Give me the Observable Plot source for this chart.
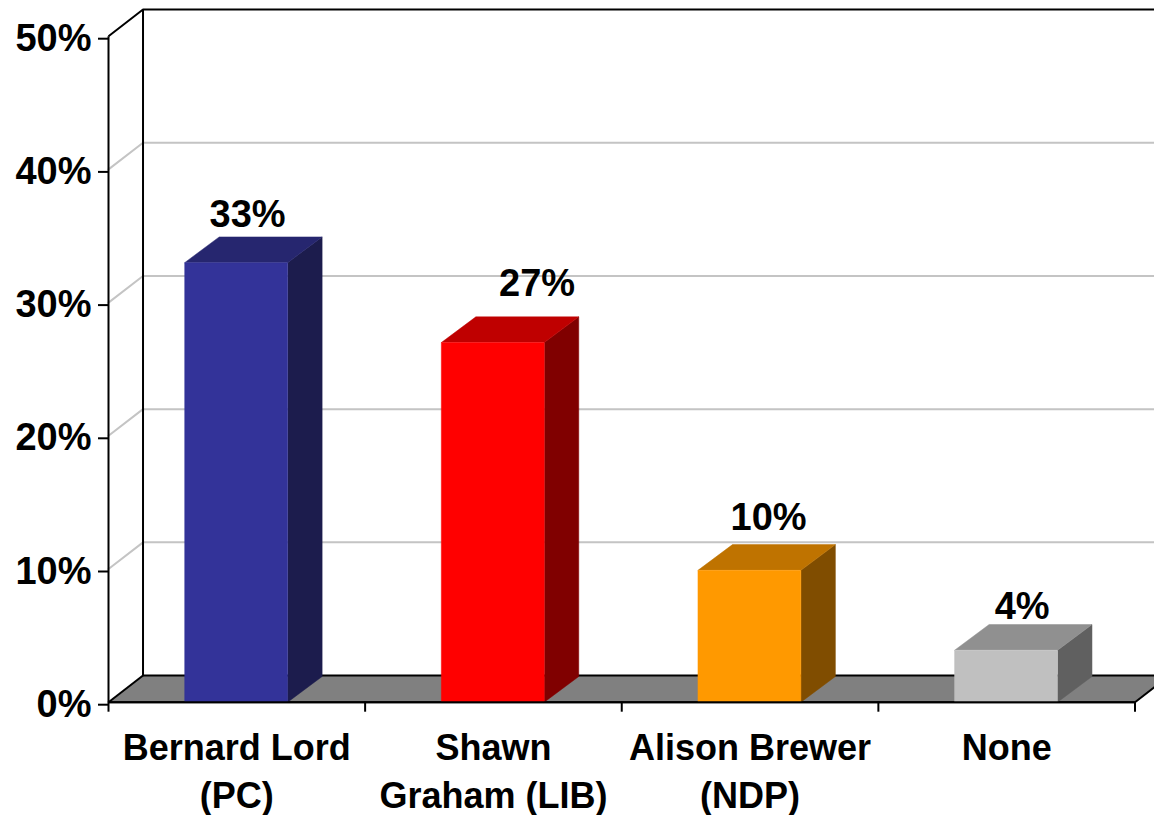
<!DOCTYPE html>
<html>
<head>
<meta charset="utf-8">
<script src="https://cdn.jsdelivr.net/npm/d3@7"></script>
<script src="https://cdn.jsdelivr.net/npm/@observablehq/plot@0.6"></script>
<style>
  html, body { margin: 0; padding: 0; background: #fff; }
  svg { display: block; }
</style>
</head>
<body>
<div id="chart"></div>
<script>
const categories = ["Bernard Lord\n(PC)", "Shawn\nGraham (LIB)", "Alison Brewer\n(NDP)", "None"];
const values = [33, 27, 9.9, 3.9];
const shownLabels = ["33%", "27%", "10%", "4%"];
const yTicks = [0, 10, 20, 30, 40, 50];
const gridTicks = [10, 20, 30, 40];

// Layout constants (not data)
const FRONT = ["#333399", "#ff0000", "#ff9900", "#c0c0c0"];
const TOP = ["#26266f", "#bf0000", "#bf7300", "#909090"];
const SIDE = ["#1c1c4d", "#800000", "#804d00", "#606060"];
const DX = 0.1345, DY = 2.0, BAR_DY = 1.93;
const BAR_L = 0.297, BAR_R = 0.698;
const FONT = "'Liberation Sans', Arial, sans-serif";
const labelShift = [[0.042, 36.6], [0.17, 31.4], [0.072, 13.85], [0.06, 7.15]];

const poly = (key, color, pts) => pts.map(([x, y]) => ({key, color, x, y}));
const faces = categories.flatMap((c, i) => {
  const l = i + BAR_L, r = i + BAR_R, v = values[i];
  return [
    ...poly(c + "side", SIDE[i], [[r, 0], [r + DX, BAR_DY], [r + DX, v + BAR_DY], [r, v]]),
    ...poly(c + "top", TOP[i], [[l, v], [l + DX, v + BAR_DY], [r + DX, v + BAR_DY], [r, v]]),
    ...poly(c + "front", FRONT[i], [[l, 0], [l, v], [r, v], [r, 0]])
  ];
});
const floor = poly("floor", "#808080", [[0, 0], [DX, DY], [4 + DX, DY], [4, 0]]);
const gridWall = gridTicks.flatMap(t => [
  {t, x: 0, y: t}, {t, x: DX, y: t + DY}, {t, x: 4 + DX, y: t + DY}
]);
const blackLines = [
  {k: "frontLeft", x: 0, y: 50}, {k: "frontLeft", x: 0, y: 0},
  {k: "topEdge", x: 0, y: 50}, {k: "topEdge", x: DX, y: 50 + DY}, {k: "topEdge", x: 4 + DX, y: 50 + DY},
  {k: "back", x: DX, y: 50 + DY}, {k: "back", x: DX, y: DY}, {k: "back", x: 4 + DX, y: DY},
  {k: "floorLeft", x: 0, y: 0}, {k: "floorLeft", x: DX, y: DY},
  {k: "floorRight", x: 4, y: 0}, {k: "floorRight", x: 4 + DX, y: DY},
  {k: "front", x: 0, y: 0}, {k: "front", x: 4, y: 0}
];

const chart = Plot.plot({
  width: 1154,
  height: 815,
  marginLeft: 108,
  marginRight: 19.5,
  marginTop: 35.7,
  marginBottom: 113.3,
  style: {background: "#fff", fontFamily: FONT},
  x: {domain: [0, 4], axis: null},
  y: {domain: [0, 50], axis: null},
  marks: [
    Plot.line(floor, {x: "x", y: "y", z: "key", fill: "color", stroke: "none"}),
    Plot.line(gridWall, {x: "x", y: "y", z: "t", stroke: "#c4c4c4", strokeWidth: 2}),
    Plot.line(blackLines, {x: "x", y: "y", z: "k", stroke: "#000", strokeWidth: 2, strokeLinecap: "butt"}),
    Plot.line(faces, {x: "x", y: "y", z: "key", fill: "color", stroke: "color", strokeWidth: 0.5}),
    Plot.ruleY([0], {x1: 0, x2: 4, stroke: "#000", strokeWidth: 2}),
    Plot.axisY({
      ticks: yTicks, tickSize: 10, tickPadding: 7, label: null,
      tickFormat: d => d + "%", fontSize: 38, fontWeight: "bold", fill: "#000",
      stroke: "#000", strokeWidth: 2, dy: 2.5, textStroke: "none"
    }),
    Plot.axisX({
      ticks: [0, 1, 2, 3, 4], tickSize: 10, label: null,
      tickFormat: () => "", stroke: "#000", strokeWidth: 2
    }),
    Plot.text(categories, {
      x: (d, i) => i + 0.5, y: () => 0, text: d => d,
      dy: 24, lineAnchor: "top", lineHeight: 1.333, textAnchor: "middle",
      fontSize: 36, fontWeight: "bold", fill: "#000"
    }),
    Plot.text(shownLabels, {
      x: (d, i) => i + 0.5 + labelShift[i][0], y: (d, i) => labelShift[i][1], text: d => d,
      textAnchor: "middle", lineAnchor: "middle",
      fontSize: 38, fontWeight: "bold", fill: "#000"
    })
  ]
});
document.getElementById("chart").appendChild(chart);
</script>
</body>
</html>
